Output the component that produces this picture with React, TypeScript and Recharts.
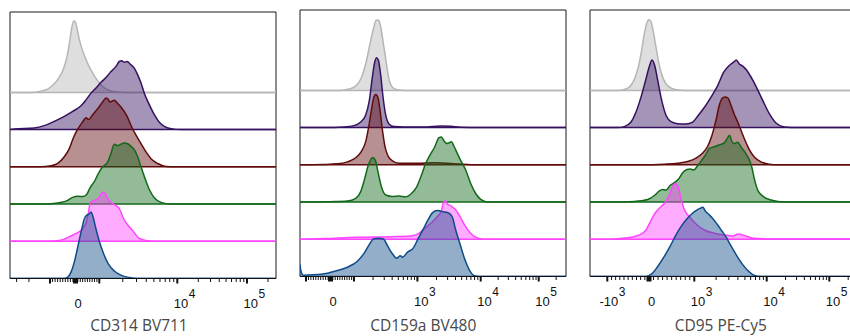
import React from "react";
import { ComposedChart, Area, XAxis, YAxis, ReferenceArea } from "recharts";

const PLOT_W = 266;
const PLOT_H = 266.5;
const ROW = 100; // vertical offset between stacked histograms (count units)
const Y_MAX = 716;
const PAD = 6;
const TICK_FONT = "'Liberation Sans', Arial, sans-serif";

// top to bottom: unstained, then five samples
const ROW_COLORS = ["#b5b5b5", "#35115f", "#600c0c", "#12691a", "#ff45ff", "#0f4b88"];

// ---- CD314 BV711: [axis position, count] ----
const cd314Gray = [[22.7,0],[31,3.6],[37.7,9],[44.3,23],[49.3,41],[53.7,65],[57,96],[59.7,137],[61.7,172],[63.7,192],[65.3,190],[67,172],[69,146],[71.7,119],[75,95],[78.3,74],[82.7,52],[87.7,31],[92.7,16],[99.3,5],[107.7,1],[117.7,0]];
const cd314Purple = [[4.3,1.8],[24.3,4.5],[34.3,10.7],[44.3,22.3],[54.3,35.7],[62.7,49],[71,64],[76,80],[81,98],[86,112],[91,127],[96,140],[101,156],[106,170],[109.3,183],[111.7,185],[114.3,181],[117,183],[121,174],[124.3,165],[127.7,147],[131,125],[134.3,98],[139.3,67],[144.3,40],[149.3,20],[154.3,9],[161,2.7],[171,0]];
const cd314Brown = [[30,0],[41,2.7],[47.7,9],[54.3,27],[59.3,49],[63.7,80],[67,98],[72.7,121],[76,132],[78.7,127],[82.7,140],[87.7,156],[92.7,174],[96,185],[98.3,181],[100,174],[104.3,179],[107.7,170],[111.7,158],[117,136],[121.7,107],[126,85],[131,62.5],[136,40],[141,22],[147.7,9],[156,1],[164.3,0]];
const cd314Green = [[30,0],[41,1],[49.3,3.6],[57.7,10],[62.7,18],[67.7,21],[72.7,20],[76.7,26],[80.3,45],[84.3,60],[88.3,82],[92.7,100],[97.7,113],[101,136],[104.3,161],[107.7,157],[111,161],[114.3,164],[117.7,162],[121,155],[124.3,146],[127.7,127],[131,100],[135,69],[139.3,39],[144.3,17],[151,4.5],[161,0]];
const cd314Pink = [[35,0],[44.3,1],[52.7,4.5],[59.3,12.5],[66,21],[72.7,34],[76,50],[78.3,75],[80.3,104],[84.3,109],[88.3,115],[92.7,132],[95,129],[97.7,115],[101,104],[106,96],[109.3,88],[112.7,66],[116,50],[119.3,39],[122.7,29],[127.7,11],[132.7,4.5],[139.3,1],[147.7,0]];
const cd314Blue = [[54.3,0],[57.7,3.6],[61,17],[64.3,44],[67.7,84],[71,124],[74.3,160],[77,171],[79,173],[81,179],[83,166],[86,133],[89.3,100],[93.7,66],[98.3,39],[104.3,20],[111,9],[119.3,2.7],[127.7,0]];

// ---- CD159a BV480 ----
const cd159Gray = [[40.7,0],[49,3.6],[55.7,11.6],[61.4,34],[65.7,71],[70,125],[73.4,165],[76,188],[78,189],[80,179],[82.7,138],[85.7,85],[88.4,37.5],[91.7,10.7],[96.7,1.8],[105.7,0]];
const cd159Purple = [[24,0],[44,1.8],[54,5.4],[60.7,15],[65.7,34],[69.4,74],[72,128],[74.4,172],[76.4,188],[78.4,181],[80.7,141],[83,83],[85.7,34],[89,10],[94,2.7],[104,1.8],[124,1.8],[140.7,4.5],[150.7,3.6],[160.7,1],[177.4,0]];
const cd159Brown = [[0.7,0],[24,1],[37.4,2.7],[47.4,8],[55.7,19],[61.4,36],[65.7,62.5],[69,107],[71.7,152],[74,183],[75.7,189],[78,180],[80,147],[82.4,94],[85,49],[88,24],[92.4,10.7],[99,4.5],[117.4,4.5],[134,5.4],[150.7,3.6],[167.4,1],[180.7,0]];
const cd159Green = [[15,0],[30.7,1],[47.4,2.7],[55.7,10],[60.7,28],[64.7,63],[68.7,102],[72.7,120],[75.4,112],[78,81],[81.4,41],[85.7,19],[92.4,15],[99,16],[105.7,14],[111.4,23],[116.7,41],[121.4,72],[125.7,104],[130,126],[134.7,148],[139,173],[141.4,175],[144,164],[147.4,157],[151.4,162],[154,150],[157.4,130],[161.4,108],[165.7,86],[170.7,50],[175.7,23],[180.7,7],[187.4,0]];
const cd159Pink = [[0.7,0],[24,1.8],[57.4,5.4],[90.7,7],[110.7,9],[119,16],[124,27],[130.7,43],[137.4,61],[141.4,77],[143.4,98],[145,104],[147.4,95],[151.4,89],[155.7,79],[160,61],[164.7,38],[170,18],[175.7,5.4],[184,0]];
const cd159Blue = [[0,32],[1,14],[3.4,3.6],[14,4.5],[27.4,9],[37.4,16],[47.4,25],[57.4,41],[64.7,65],[70,89],[73.4,101],[78,103],[83.4,101],[87.4,83],[92.4,61],[96.7,49],[100,56],[102.7,52],[107.4,65],[113.4,77],[118,101],[123.4,128],[128,152],[132.4,171],[137.4,177],[143.4,174],[149,170],[152.4,159],[155.7,125],[160,87.5],[164.7,47],[169.7,16],[174.7,1.8],[179,0]];

// ---- CD95 PE-Cy5 ----
const cd95Gray = [[29.3,0],[36,3.6],[41,14],[45,34],[48.3,62.5],[51.7,109],[54.3,152],[56.7,180],[58.7,190],[60.7,186],[63,162],[66,116],[69.3,67],[73.3,31],[78.3,10.7],[86,1.8],[94.3,0]];
const cd95Purple = [[27.7,0],[34.3,2.7],[41,15],[46,42],[51,82],[56,131],[59.3,164],[62,182],[64.7,167],[67.7,127],[71.7,73],[76,33],[81,16],[87.7,10.7],[96,10],[102.7,15],[108.3,33],[114.3,54],[121,82],[127.7,113],[133.7,149],[139.3,167],[143.7,176],[146.3,182],[149.3,171],[152.7,165],[156.7,154],[161,136],[166,111],[172.7,73],[179.3,37.5],[186,12.5],[194.3,1.8],[207.7,0]];
const cd95Brown = [[51,0],[74.3,1.8],[87.7,4.5],[97.7,9],[106,18],[112.7,32],[117.7,50],[122,79.5],[126,120],[129.3,160],[132.7,180],[135.3,182],[138.3,178],[141,160],[144.3,136],[147.7,115],[151,93],[155,66],[159.3,41],[164.3,21],[171,8],[179.3,1.8],[187.7,0]];
const cd95Green = [[24.3,0],[44.3,1.8],[57.7,7],[65,19],[69.3,30],[72.7,34],[76,32],[80.3,45],[84.3,52],[88.3,61],[92.7,79],[97,87.5],[100.3,89],[103.7,86],[107.7,98],[111.7,112.5],[116,129],[119.3,144],[123.7,148],[127.7,152],[131,155],[134.3,159],[137.7,173],[139.7,179.5],[141.7,164],[144.3,157],[147.7,161],[151,148],[155,134],[158.7,117],[161.7,95],[164.3,63],[167.7,32],[172.7,16],[181,5.4],[194.3,0]];
const cd95Pink = [[21,0],[32.7,2.7],[41,5.4],[49.3,11.6],[56,25],[60.3,47],[65,70],[70.3,86],[75,98],[79.3,119],[83.3,145],[85.7,150],[88.3,139],[91,110],[94.3,80],[99.3,61],[106,41],[114.3,25],[124.3,16],[134.3,11.6],[142.7,9],[148.3,14],[153.7,10.7],[159.3,5.4],[167.7,1.8],[181,1],[257.7,1]];
const cd95Blue = [[56,0],[61.7,7],[67.7,27],[74.3,54],[80.3,82],[86,112],[91,134],[97,155],[101.7,168],[106,177],[110,183],[113,186],[115,177],[118.3,168],[122.7,156],[127,141],[131.7,123],[136.3,105],[141,82],[147,55],[153.7,28.6],[159.3,12.5],[165,1.8],[169.3,0]];

// axis: [value, position] anchors of the biexponential display
const cd314Anchors = [[-1e4,-30],[-1000,40],[0,65.5],[1000,89.3],[1e4,167.3],[1e5,237],[1e6,306.7]];
const cd159Anchors = [[-1000,-54],[-100,6],[0,30.5],[100,54],[1000,117.4],[1e4,180.7],[1e5,238.7],[1e6,296.7]];
const cd95Anchors = [[-1e4,-55],[-1000,17.3],[0,59],[1000,104.3],[1e4,176.7],[1e5,239.3],[1e6,302]];

const cd314Majors = [-1000, 1000, 1e4, 1e5];
const cd159Majors = [-100, 100, 1000, 1e4, 1e5];
const cd95Majors = [-1000, 1000, 1e4, 1e5];

const cd314Decades = [-1000, 1000, 1e4, 1e5];
const cd159Decades = [-100, 100, 1000, 1e4, 1e5];
const cd95Decades = [-1000, 1000, 1e4, 1e5];

const cd314Labels = [[0, "0", ""], [1e4, "10", "4"], [1e5, "10", "5"]];
const cd159Labels = [[0, "0", ""], [1000, "10", "3"], [1e4, "10", "4"], [1e5, "10", "5"]];
const cd95Labels = [[-1000, "-10", "3"], [0, "0", ""], [1000, "10", "3"], [1e4, "10", "4"], [1e5, "10", "5"]];

const LOG_MULT = [2, 3, 4, 5, 6, 7, 8, 9];

function toPos(v: number, anchors: number[][]) {
  for (let i = 0; i < anchors.length - 1; i++) {
    const [v0, p0] = anchors[i];
    const [v1, p1] = anchors[i + 1];
    if (v >= v0 && v <= v1) {
      if (v0 > 0) return p0 + ((p1 - p0) * Math.log10(v / v0)) / Math.log10(v1 / v0);
      if (v1 < 0) return p1 - ((p1 - p0) * Math.log10(v / v1)) / Math.log10(v0 / v1);
      return p0 + ((p1 - p0) * (v - v0)) / (v1 - v0);
    }
  }
  return NaN;
}

type TickInfo = { pos: number; kind: "minor" | "major" | "zero"; base?: string; exp?: string };

function buildTicks(anchors: number[][], majors: number[], decades: number[], linStep: number, linMax: number, labels: any[][]) {
  const out: TickInfo[] = [];
  for (let v = -linMax + linStep; v < linMax - linStep / 2; v += linStep) {
    if (Math.abs(v) > linStep / 2) out.push({ pos: toPos(v, anchors), kind: "minor" });
  }
  decades.forEach((d) => LOG_MULT.forEach((m) => out.push({ pos: toPos(d * m, anchors), kind: "minor" })));
  majors.forEach((v) => out.push({ pos: toPos(v, anchors), kind: "major" }));
  out.push({ pos: toPos(0, anchors), kind: "zero" });
  labels.forEach(([v, base, exp]) => {
    const t = out.find((o) => Math.abs(o.pos - toPos(v, anchors)) < 0.01 && o.kind !== "minor");
    if (t) { t.base = base; t.exp = exp; }
  });
  return out.filter((t) => t.pos >= 0 && t.pos <= PLOT_W).sort((a, b) => a.pos - b.pos);
}

function makeRows(curve: number[][], offset: number) {
  const pts = curve.slice();
  if (pts[0][0] > 0) pts.unshift([0, 0]);
  if (pts[pts.length - 1][0] < PLOT_W) pts.push([PLOT_W, 0]);
  return pts.map(([x, h]) => ({ x, band: [offset, offset + h] }));
}

function Panel({ left, top, curves, ticks }: { left: number; top: number; curves: number[][][]; ticks: TickInfo[] }) {
  const axisY = top + PLOT_H;
  const labelY = axisY + 29;
  const renderTick = (props: any) => {
    const t = ticks[props.index];
    if (!t) return <g />;
    const x = props.x;
    return (
      <g>
        {t.kind === "zero" ? (
          <rect x={x - 2.5} y={axisY} width={5} height={5} fill="#111" />
        ) : (
          <line x1={x} x2={x} y1={axisY} y2={axisY + (t.kind === "major" ? 5 : 3.5)} stroke="#111" strokeWidth={t.kind === "major" ? 2 : 1} />
        )}
        {t.base && !t.exp && (
          <text x={x + 2.5} y={labelY} textAnchor="middle" fontFamily={TICK_FONT} fontSize={13} fill="#111">{t.base}</text>
        )}
        {t.base && t.exp && (
          <g fontFamily={TICK_FONT} fill="#111">
            <text x={x + 11} y={labelY} textAnchor="end" fontSize={13}>{t.base}</text>
            <text x={x + 11.5} y={labelY - 9.5} fontSize={12}>{t.exp}</text>
          </g>
        )}
      </g>
    );
  };
  return (
    <div style={{ position: "absolute", left: left - PAD, top: 0 }}>
      <ComposedChart width={PLOT_W + PAD * 2} height={336} margin={{ top, right: PAD, bottom: 0, left: PAD }}>
        <XAxis
          type="number"
          dataKey="x"
          domain={[0, PLOT_W]}
          allowDataOverflow
          ticks={ticks.map((t) => t.pos)}
          interval={0}
          tickLine={false}
          axisLine={{ stroke: "#111" }}
          height={336 - top - PLOT_H}
          tick={renderTick}
        />
        <YAxis type="number" hide domain={[0, Y_MAX]} allowDataOverflow />
        <ReferenceArea x1={0} x2={PLOT_W} y1={0} y2={Y_MAX} fill="none" stroke="#1a1a1a" strokeWidth={1} ifOverflow="visible" />
        {curves.map((c, i) => (
          <Area
            key={i}
            data={makeRows(c, (5 - i) * ROW)}
            dataKey="band"
            type="monotone"
            stroke={ROW_COLORS[i]}
            strokeWidth={1.5}
            fill={ROW_COLORS[i]}
            fillOpacity={0.45}
            dot={false}
            activeDot={false}
            isAnimationActive={false}
          />
        ))}
      </ComposedChart>
    </div>
  );
}

export default function App() {
  const panels = [
    { left: 9.5, top: 12, title: "CD314 BV711", titleX: 139, curves: [cd314Gray, cd314Purple, cd314Brown, cd314Green, cd314Pink, cd314Blue], ticks: buildTicks(cd314Anchors, cd314Majors, cd314Decades, 100, 1000, cd314Labels) },
    { left: 299.5, top: 10, title: "CD159a BV480", titleX: 423.3, curves: [cd159Gray, cd159Purple, cd159Brown, cd159Green, cd159Pink, cd159Blue], ticks: buildTicks(cd159Anchors, cd159Majors, cd159Decades, 10, 100, cd159Labels) },
    { left: 589.5, top: 10, title: "CD95 PE-Cy5", titleX: 720.8, curves: [cd95Gray, cd95Purple, cd95Brown, cd95Green, cd95Pink, cd95Blue], ticks: buildTicks(cd95Anchors, cd95Majors, cd95Decades, 100, 1000, cd95Labels) },
  ];
  return (
    <div style={{ position: "absolute", left: 0, top: 0, width: 850, height: 336, overflow: "hidden", background: "#fff" }}>
      {panels.map((p) => (
        <Panel key={p.title} left={p.left} top={p.top} curves={p.curves} ticks={p.ticks} />
      ))}
      <svg width={850} height={336} style={{ position: "absolute", left: 0, top: 0, pointerEvents: "none" }}>
        {panels.map((p) => (
          <text key={p.title} x={p.titleX} y={330.5} textAnchor="middle" fontFamily="'Open Sans', 'Noto Sans', sans-serif" fontSize={15.5} fill="#474747">
            {p.title}
          </text>
        ))}
      </svg>
    </div>
  );
}
